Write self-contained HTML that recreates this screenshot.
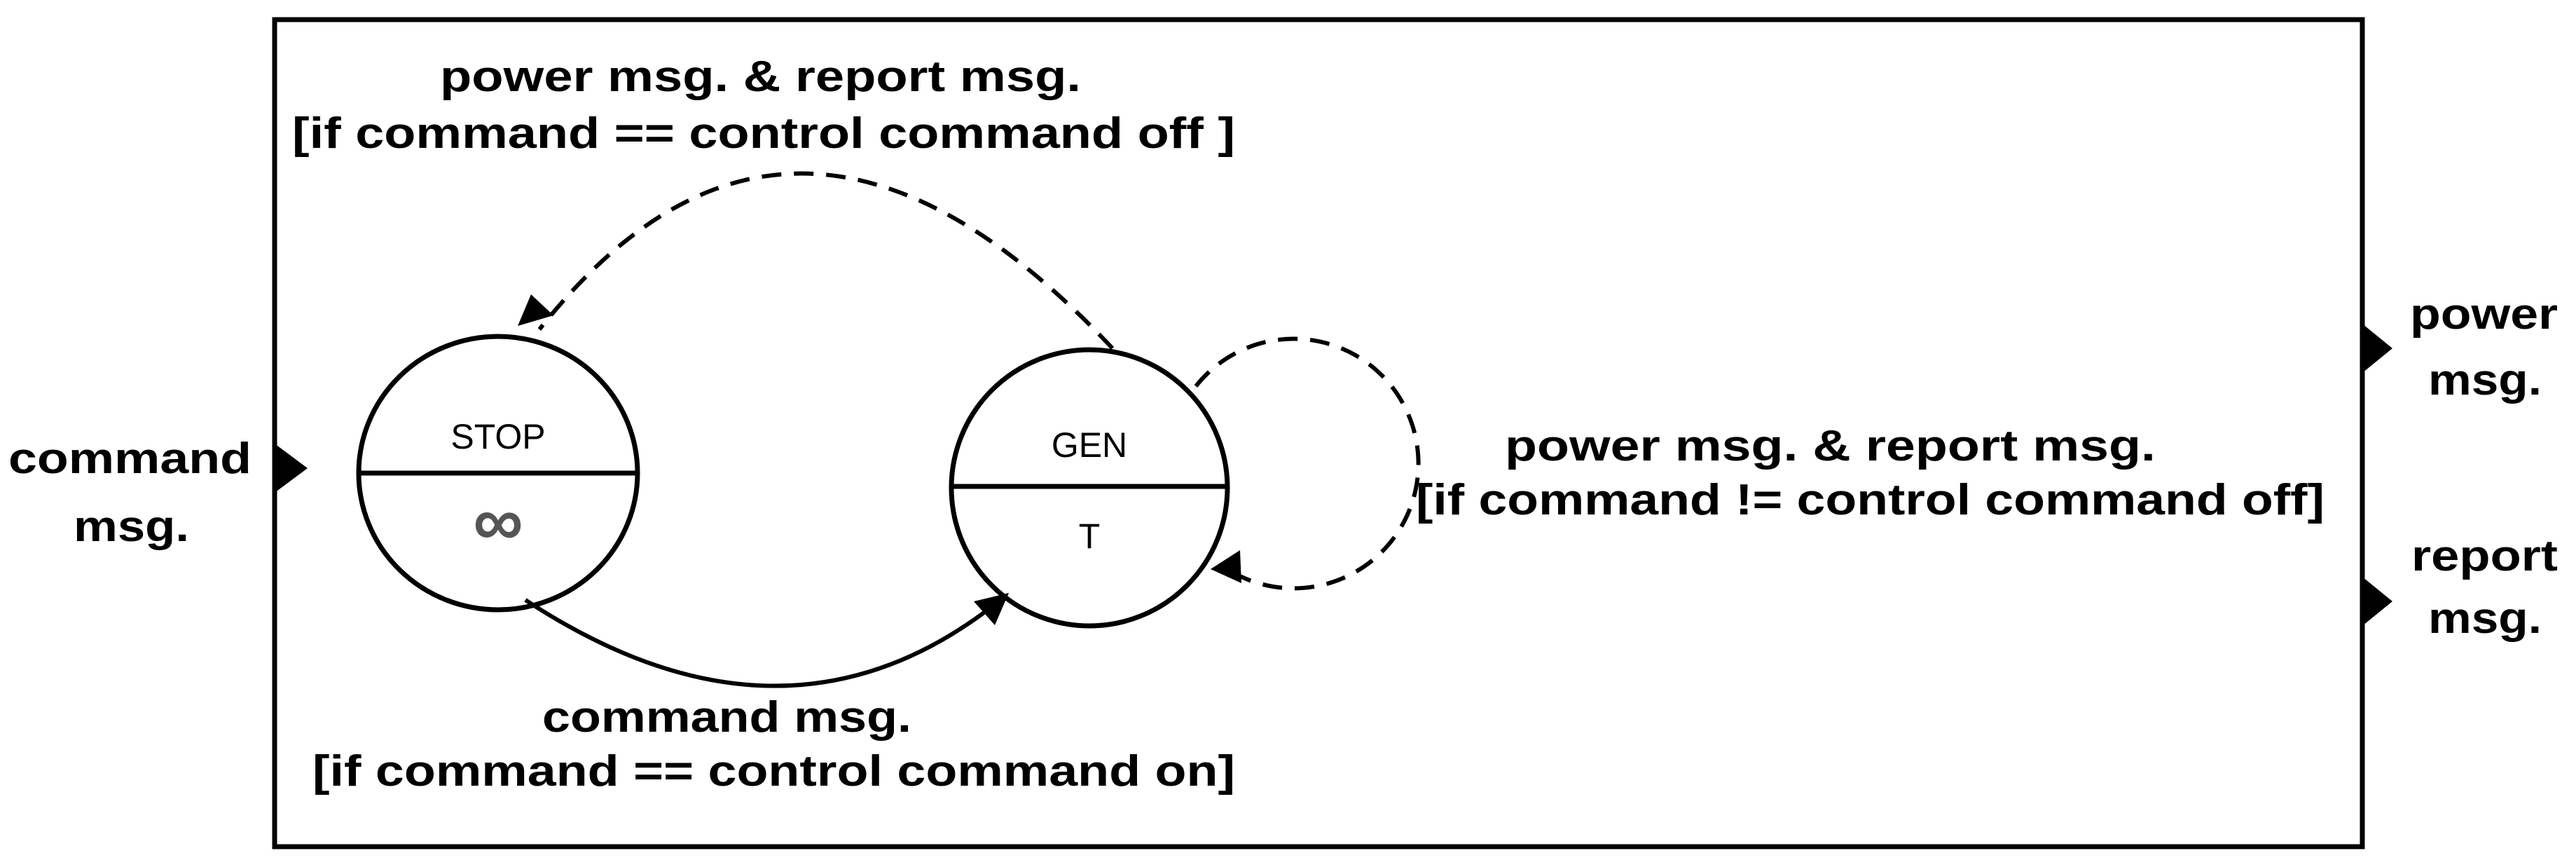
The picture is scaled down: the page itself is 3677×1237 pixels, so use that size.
<!DOCTYPE html>
<html><head><meta charset="utf-8"><style>
html,body{margin:0;padding:0;background:#fff;}
svg{display:block;}
text{font-family:"Liberation Sans",sans-serif;fill:#000;}
</style></head><body>
<svg width="3677" height="1237" viewBox="0 0 3677 1237" xmlns="http://www.w3.org/2000/svg">
<defs>
<marker id="ah" markerWidth="10" markerHeight="10" refX="9" refY="5" orient="auto" markerUnits="userSpaceOnUse" viewBox="0 0 10 10" style="overflow:visible">
</marker>
</defs>
<rect x="392" y="28" width="2980" height="1180" fill="none" stroke="#000" stroke-width="7"/>
<!-- ports -->
<polygon points="392,633 439,668 392,703" fill="#000"/>
<polygon points="3372,462 3415,497 3372,532" fill="#000"/>
<polygon points="3372,823 3415,858 3372,893" fill="#000"/>
<!-- states -->
<ellipse cx="711" cy="675" rx="199" ry="195" fill="none" stroke="#000" stroke-width="7"/>
<line x1="512" y1="675" x2="910" y2="675" stroke="#000" stroke-width="7"/>
<ellipse cx="1555" cy="696" rx="197" ry="197" fill="none" stroke="#000" stroke-width="7"/>
<line x1="1358" y1="694" x2="1752" y2="694" stroke="#000" stroke-width="7"/>
<text x="711" y="640" font-size="50" text-anchor="middle">STOP</text>
<text x="711" y="778" font-size="100" text-anchor="middle" style="fill:#555" font-weight="bold">∞</text>
<text x="1555" y="652" font-size="50" text-anchor="middle">GEN</text>
<text x="1555" y="782" font-size="50" text-anchor="middle">T</text>
<!-- connectors -->
<path d="M1588 497 Q1132 12 770 470" fill="none" stroke="#000" stroke-width="6" stroke-dasharray="28 18"/>
<polygon points="739,465 790,450 758,420" fill="#000"/>
<path d="M750 856 Q1112 1094 1410 870" fill="none" stroke="#000" stroke-width="6"/>
<polygon points="1440,846 1390,858 1420,892" fill="#000"/>
<path d="M1707 551 A178 178 0 1 1 1762 818" fill="none" stroke="#000" stroke-width="6" stroke-dasharray="28 18"/>
<polygon points="1728,812 1770,785 1772,832" fill="#000"/>
<!-- labels -->
<g font-size="62" font-weight="bold">
<text x="628" y="130" textLength="915" lengthAdjust="spacingAndGlyphs">power msg. &amp; report msg.</text>
<text x="417" y="211" textLength="1346" lengthAdjust="spacingAndGlyphs">[if command == control command off ]</text>
<text x="774" y="1044" textLength="527" lengthAdjust="spacingAndGlyphs">command msg.</text>
<text x="446" y="1121" textLength="1317" lengthAdjust="spacingAndGlyphs">[if command == control command on]</text>
<text x="2148" y="657" textLength="929" lengthAdjust="spacingAndGlyphs">power msg. &amp; report msg.</text>
<text x="2021" y="734" textLength="1297" lengthAdjust="spacingAndGlyphs">[if command != control command off]</text>
<text x="12" y="675" textLength="347" lengthAdjust="spacingAndGlyphs">command</text>
<text x="105" y="772" textLength="165" lengthAdjust="spacingAndGlyphs">msg.</text>
<text x="3440" y="469" textLength="211" lengthAdjust="spacingAndGlyphs">power</text>
<text x="3466" y="563" textLength="162" lengthAdjust="spacingAndGlyphs">msg.</text>
<text x="3442" y="814" textLength="209" lengthAdjust="spacingAndGlyphs">report</text>
<text x="3466" y="903" textLength="162" lengthAdjust="spacingAndGlyphs">msg.</text>
</g>
</svg>
</body></html>
